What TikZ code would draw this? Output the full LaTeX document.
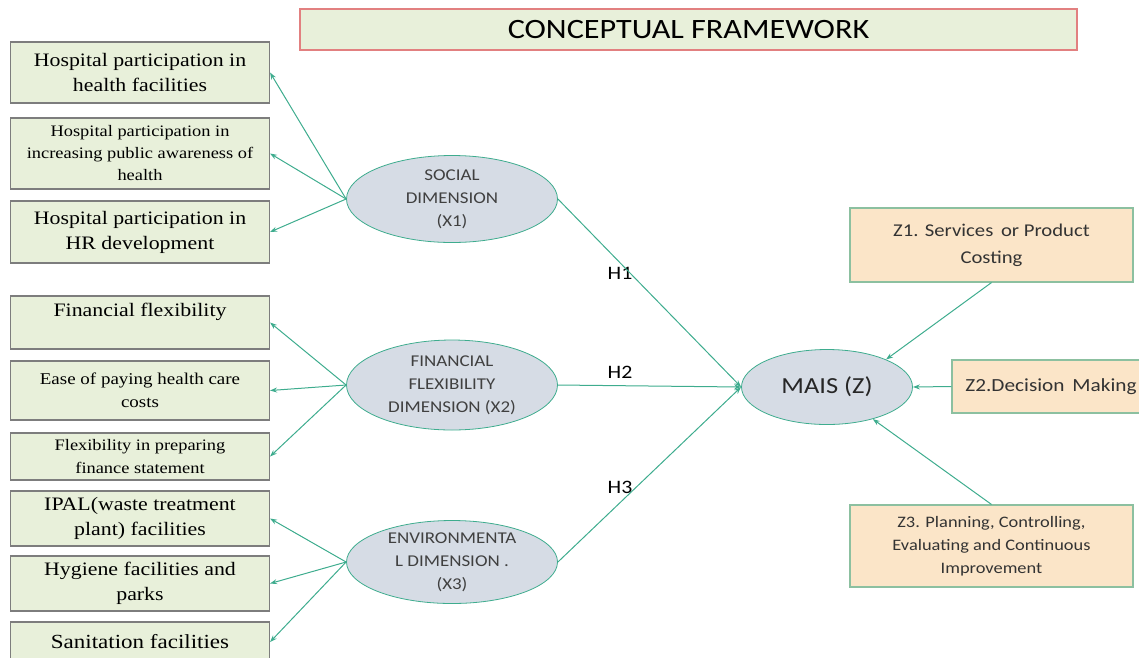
\documentclass[tikz,border=0pt]{standalone}
\usepackage{fontspec}
\setmainfont{Liberation Serif}[FakeStretch=1.15]
\newfontfamily\calib{Carlito}[FakeStretch=1.15]
\usetikzlibrary{arrows.meta,shapes.geometric}
\definecolor{boxgreen}{RGB}{232,240,218}
\definecolor{boxgray}{RGB}{125,125,125}
\definecolor{ellfill}{RGB}{214,220,229}
\definecolor{linkgreen}{RGB}{62,172,142}
\definecolor{boxorange}{RGB}{251,229,200}
\definecolor{zborder}{RGB}{140,192,160}
\definecolor{titlered}{RGB}{226,128,128}
\newcommand{\fsz}[2]{\fontsize{#1}{#2}\selectfont}
\begin{document}
\begin{tikzpicture}
  [x=1pt,y=-1pt,
  ind/.style={rectangle,draw=boxgray,fill=boxgreen,line width=1.1pt,minimum width=259pt,align=center,inner sep=2pt},
  dim/.style={ellipse,draw=linkgreen,fill=ellfill,line width=0.8pt,minimum width=211pt,align=center,inner sep=-2pt,text=black!75,font=\calib\fsz{16.5}{23}},
  zbox/.style={rectangle,draw=zborder,fill=boxorange,line width=1.1pt,minimum width=283pt,align=center,text=black!80},
  hlab/.style={font=\calib\fsz{19}{22}},
  link/.style={linkgreen,line width=1pt,-{Stealth[length=7pt,width=5pt]}}]
  \useasboundingbox (0,0) rectangle (1139,657);
  \clip (0,0) rectangle (1139,657);

  \node[rectangle,draw=titlered,fill=boxgreen,line width=1.1pt,minimum width=777pt,minimum height=41pt,font=\calib\fsz{28}{32}] (t) at (688.5,29.5) {CONCEPTUAL FRAMEWORK};

  \node[ind,minimum height=61pt,font=\fsz{19}{25}] (1) at (140,72.5) {Hospital participation in\\health facilities};
  \node[ind,minimum height=71pt,font=\fsz{16}{22}] (2) at (140,153.5) {Hospital participation in\\increasing public awareness of\\health};
  \node[ind,minimum height=62pt,font=\fsz{19}{25}] (3) at (140,232) {Hospital participation in\\HR development};
  \node[ind,minimum height=53pt,font=\fsz{19}{25}] (4) at (140,322.5) {Financial flexibility\\[1pt]~};
  \node[ind,minimum height=59pt,font=\fsz{16.5}{23}] (5) at (140,390.5) {Ease of paying health care\\costs};
  \node[ind,minimum height=47pt,font=\fsz{16}{23}] (6) at (140,456.5) {Flexibility in preparing\\finance statement};
  \node[ind,minimum height=55pt,font=\fsz{19}{25}] (7) at (140,518.5) {IPAL(waste treatment\\plant) facilities};
  \node[ind,minimum height=55pt,font=\fsz{19}{25}] (8) at (140,583.5) {Hygiene facilities and\\parks};
  \node[ind,minimum height=40pt,font=\fsz{20}{25}] (9) at (140,642) {Sanitation facilities};

  \node[dim,minimum height=87pt] (x1) at (452,199) {SOCIAL\\DIMENSION\\(X1)};
  \node[dim,minimum height=90pt] (x2) at (452,385) {FINANCIAL\\FLEXIBILITY\\DIMENSION (X2)};
  \node[dim,minimum height=83pt] (x3) at (452,562) {ENVIRONMENTA\\L DIMENSION .\\(X3)};

  \node[ellipse,draw=linkgreen,fill=ellfill,line width=0.8pt,minimum width=171pt,minimum height=75pt,inner sep=0pt,text=black!85,font=\calib\fsz{23}{26}] (z) at (827,387) {MAIS (Z)};

  \node[zbox,minimum height=74pt,font=\calib\fsz{18}{27}] (z1) at (991.5,245) {Z1. Services\, or Product\\Costing};
  \node[zbox,minimum width=198pt,minimum height=53pt,font=\calib\fsz{18.5}{22}] (z2) at (1051,386.5) {Z2.Decision\, Making};
  \node[zbox,minimum height=82pt,font=\calib\fsz{16}{23}] (z3) at (991.5,546) {Z3. Planning, Controlling,\\Evaluating and Continuous\\Improvement};

  \node[hlab] (h1) at (620,273) {H1};
  \node[hlab] (h2) at (620,372) {H2};
  \node[hlab] (h3) at (620,487) {H3};

  \draw[link] (x1.west) -- (1.east);
  \draw[link] (x1.west) -- (2.east);
  \draw[link] (x1.west) -- (3.east);
  \draw[link] (x2.west) -- (4.east);
  \draw[link] (x2.west) -- (5.east);
  \draw[link] (x2.west) -- (6.east);
  \draw[link] (x3.west) -- (7.east);
  \draw[link] (x3.west) -- (8.east);
  \draw[link] (x3.west) -- (9.east);

  \draw[link] (x1.east) -- (z.west);
  \draw[link] (x2.east) -- (z.west);
  \draw[link] (x3.east) -- (z.west);
  \draw[link] (z1.south) -- (z.25);
  \draw[link] (z2.west) -- (z.east);
  \draw[link] (z3.north) -- (z.-35);

\end{tikzpicture}
\end{document}
